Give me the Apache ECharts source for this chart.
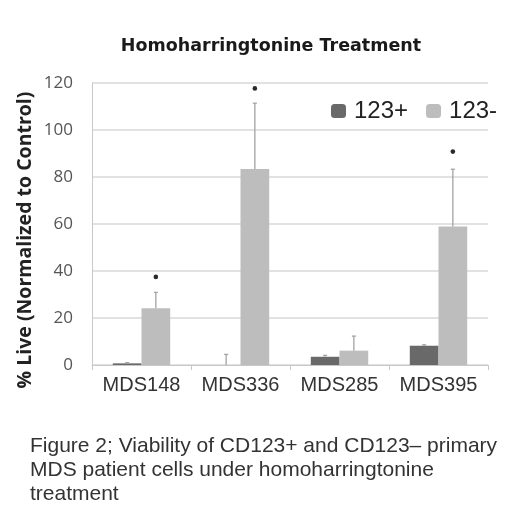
<!DOCTYPE html>
<html>
<head>
<meta charset="utf-8">
<script src="https://cdn.jsdelivr.net/npm/echarts@6/dist/echarts.min.js"></script>
<style>html,body{margin:0;padding:0;background:#fff}#c{width:520px;height:522px}</style>
</head>
<body>
<div id="c"></div>
<script>
const categories = ['MDS148', 'MDS336', 'MDS285', 'MDS395'];
const pos123 = [0.7, 0, 3.5, 8.2];
const pos123Err = [0.3, 4.5, 0.6, 0.4];
const neg123 = [24.1, 83.4, 6.1, 58.9];
const neg123Err = [6.8, 28.0, 6.2, 24.4];
const negStars = [37.5, 117.7, null, 90.8];
const yTicks = [0, 20, 40, 60, 80, 100, 120];

const chart = echarts.init(document.getElementById('c'));

const DARK = '#696969';
const LIGHT = '#bdbdbd';
const ERR = '#a3a3a3';
const BAR_FRAC = 0.29;

function errSeries(vals, errs, side) {
  return {
    type: 'custom',
    silent: true,
    z: 3,
    data: vals.map((v, i) => [i, v, errs[i]]),
    renderItem: function (params, api) {
      const i = api.value(0), v = api.value(1), e = api.value(2);
      const band = api.size([1, 0])[0];
      const base = api.coord([i, v]);
      const top = api.coord([i, v + e]);
      const x = base[0] + side * band * BAR_FRAC / 2;
      return {
        type: 'group',
        children: [
          { type: 'line', shape: { x1: x, y1: base[1], x2: x, y2: top[1] }, style: { stroke: ERR, lineWidth: 1.3 } },
          { type: 'line', shape: { x1: x - 2, y1: top[1], x2: x + 2, y2: top[1] }, style: { stroke: ERR, lineWidth: 1.3 } }
        ]
      };
    }
  };
}

chart.setOption({
  animation: false,
  title: {
    text: 'Homoharringtonine Treatment',
    left: 266, top: 32, textAlign: 'center',
    textStyle: { fontFamily: 'DejaVu Sans', fontWeight: 'bold', fontSize: 17.5, color: '#1a1a1a' }
  },
  legend: {
    left: 326, top: 94,
    itemWidth: 15, itemHeight: 14, itemGap: 18,
    data: ['123+', '123-'],
    textStyle: { fontFamily: 'Liberation Sans', fontSize: 24, color: '#222', padding: [0, 0, 0, 3] }
  },
  grid: { left: 92, right: 32, top: 83, bottom: 157 },
  xAxis: {
    type: 'category',
    data: categories,
    axisLine: { lineStyle: { color: '#c8c8c8', width: 1 } },
    axisTick: { show: true, length: 5, lineStyle: { color: '#c8c8c8' } },
    axisLabel: { interval: 0, fontFamily: 'Liberation Sans', fontSize: 20, color: '#333', margin: 10 }
  },
  yAxis: {
    type: 'value', min: 0, max: 120, interval: 20,
    axisLine: { show: true, lineStyle: { color: '#c8c8c8' } },
    axisTick: { show: false },
    splitLine: { lineStyle: { color: '#d9d9d9', width: 1.5 } },
    axisLabel: {
      fontFamily: 'Open Sans', fontSize: 17, color: '#555', margin: 19,
      formatter: function (v) { return yTicks.indexOf(v) >= 0 ? String(v) : ''; }
    }
  },
  graphic: [
    {
      type: 'text', x: 25, y: 240, rotation: Math.PI / 2,
      style: {
        text: '% Live (Normalized to Control)', align: 'center', verticalAlign: 'middle',
        fontFamily: 'Open Sans', fontWeight: 'bold', fontSize: 19.5, fill: '#222'
      }
    },
    {
      type: 'text', left: 30, top: 434,
      style: {
        text: 'Figure 2; Viability of CD123+ and CD123\u2013 primary\nMDS patient cells under homoharringtonine\ntreatment',
        fontFamily: 'Liberation Sans', fontSize: 21, lineHeight: 24, fill: '#333'
      }
    }
  ],
  series: [
    { name: '123+', type: 'bar', data: pos123, barGap: '0%', barCategoryGap: '42%', itemStyle: { color: DARK } },
    { name: '123-', type: 'bar', data: neg123, barGap: '0%', barCategoryGap: '42%', itemStyle: { color: LIGHT } },
    errSeries(pos123, pos123Err, -1),
    errSeries(neg123, neg123Err, 1),
    {
      type: 'custom', silent: true, z: 4,
      data: negStars.map((v, i) => [i, v]).filter(d => d[1] != null),
      renderItem: function (params, api) {
        const band = api.size([1, 0])[0];
        const p = api.coord([api.value(0), api.value(1)]);
        return { type: 'circle', shape: { cx: p[0] + band * BAR_FRAC / 2, cy: p[1], r: 2.3 }, style: { fill: '#2a2a2a' } };
      }
    }
  ]
});
</script>
</body>
</html>
